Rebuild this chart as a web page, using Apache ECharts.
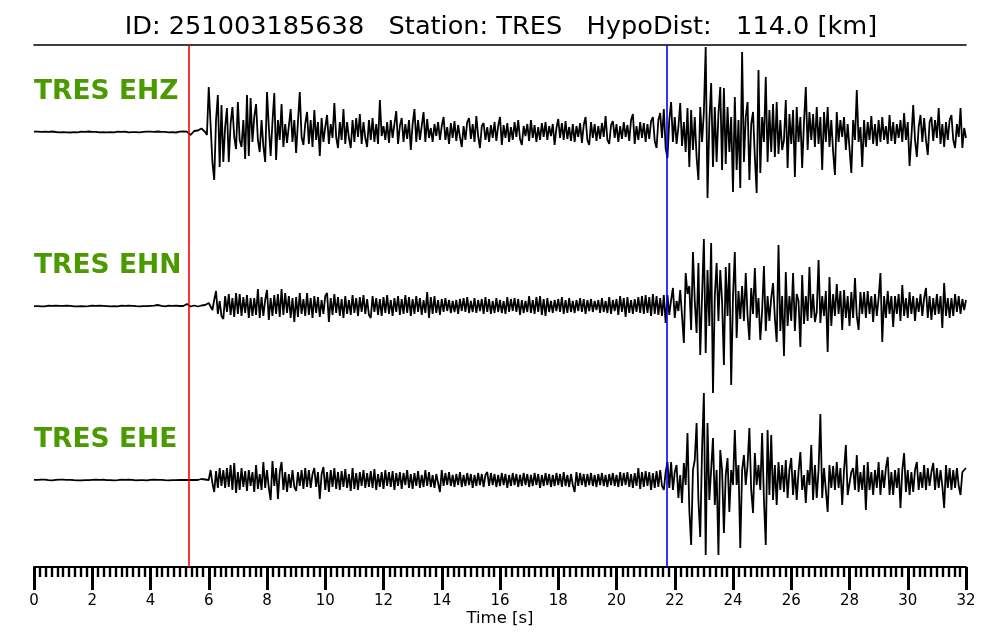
<!DOCTYPE html>
<html><head><meta charset="utf-8">
<script src="https://cdn.jsdelivr.net/npm/echarts@6/dist/echarts.min.js"></script>
<style>html,body{margin:0;padding:0;background:#fff}#chart{width:1000px;height:640px}</style>
</head><body><div id="chart"></div>
<script>
const TITLE = 'ID: 251003185638   Station: TRES   HypoDist:   114.0 [km]';
const CHANNELS = ['TRES EHZ', 'TRES EHN', 'TRES EHE'];
const X_NAME = 'Time [s]';
const SAMPLE_DT = 0.0625;   // seconds between samples
const T_MIN = 0, T_MAX = 32;
const P_PICK = 5.32;        // red marker, s
const S_PICK = 21.73;       // blue marker, s

// amplitudes (arbitrary units), 8 samples (0.5 s) per row
const EHZ = [
0.3,-0.2,0.4,-0.3,0.1,-0.4,0.3,-0.1,
0.2,-0.3,0.5,-0.2,0.0,0.3,-0.4,0.2,
-0.1,0.4,-0.3,0.2,-0.5,0.3,-0.1,0.4,
-0.3,0.1,0.3,-0.4,0.2,-0.2,0.5,-0.3,
0.1,-0.4,0.2,0.3,-0.3,0.4,-0.2,0.1,
-0.4,0.2,-0.1,0.5,-0.3,0.1,0.3,-0.4,
0.2,-0.3,0.4,-0.1,-0.4,0.3,-0.2,0.4,
-0.2,0.1,-0.4,0.3,0.2,-0.3,0.4,-0.1,
0.3,-0.4,0.1,-0.2,0.5,-0.3,0.2,-0.4,
0.1,0.3,-0.3,0.4,-0.2,0.1,-0.5,0.3,
0.3,-0.4,0.5,-0.2,0.4,-1.5,-3,-1,
1,2.5,1.5,3,3.5,2,0,-3,
45,8,-30,-48,12,37,-35,27,
-30,5,24,-30,8,25,-5,-17,
30,-8,-15,12,-27,37,-24,34,
-10,15,28,-8,-20,12,-14,-30,
40,5,-24,10,39,-28,12,-8,
28,-15,8,-11,6,23,-10,12,
-21,10,40,-5,-13,8,20,-12,
12,-15,22,-8,10,-24,14,-10,
5,17,-12,8,-6,29,-5,-16,
10,-8,23,-12,10,-6,-16,12,
-10,14,-5,18,-12,10,-6,-15,
12,-8,14,-10,8,-12,32,-4,
6,-8,10,-11,12,-6,8,21,
-12,6,14,-10,8,-7,12,-18,
8,23,-10,12,-8,6,20,-10,
13,-6,4,-10,8,-4,10,-8,
6,15,-8,5,-12,9,-6,11,
-9,7,-5,-15,6,-8,10,14,
-7,8,-10,16,-4,-16,6,9,
-8,5,-10,7,-6,10,-9,6,
15,-13,7,-6,9,-10,5,-8,
10,-5,12,-7,-13,6,-4,8,
-9,12,-6,7,-10,5,-8,9,
-5,10,-8,6,-4,8,-13,4,
13,-6,9,-8,11,-7,5,-9,
8,-10,6,-5,9,-11,7,15,
-8,-13,10,-6,8,-9,6,-7,
9,-5,16,-8,-12,7,11,-6,
8,-10,6,-7,10,-5,7,-9,
12,18,-12,6,-8,10,-6,9,
-10,8,-7,11,15,-9,-16,12,
19,-6,23,-16,-26,12,30,-10,
15,-12,5,29,-14,10,-20,24,
-35,22,-18,15,-25,-48,25,-10,
20,85,-66,10,49,-35,25,-30,
18,45,-38,44,-32,25,-20,15,
-60,35,-38,12,-56,80,-30,15,
30,-48,8,20,-25,-61,62,-41,
15,-10,55,-30,22,-20,28,-25,
30,-22,12,-18,-8,32,-36,18,
-12,22,-45,25,-10,15,-36,10,
45,-18,20,-8,18,-15,25,-12,
15,-38,20,-10,25,-15,12,-20,
-43,20,-10,12,-5,15,-18,8,
10,-41,12,-8,42,-10,5,-35,
12,-15,10,-8,16,-12,8,-14,
12,-10,15,-8,6,-12,17,-9,
10,-12,8,-6,12,-10,19,-8,
10,-34,-5,27,-8,-25,5,17,
-10,14,-8,-23,10,15,-9,12,
-6,24,-12,8,-15,10,-8,12,
17,-8,-16,8,-5,24,-16,4,
-6
];

const EHN = [
-0.2,0.3,-0.1,0.4,-0.3,0.2,-0.4,0.1,
0.3,-0.2,0.2,-0.4,0.4,-0.1,0.2,-0.3,
0.1,-0.3,0.4,-0.2,0.1,0.3,-0.4,0.2,
-0.3,0.4,-0.1,1.2,-0.4,0.2,-0.2,0.3,
0.4,-0.3,0.2,-0.1,0.3,-0.4,0.1,-0.2,
-0.1,0.2,-0.4,0.3,-0.2,0.4,-0.3,0.1,
0.3,-0.1,0.2,-0.3,0.4,-0.2,0.1,-0.4,
-0.2,0.4,-0.3,0.1,-0.1,0.3,-0.2,0.2,
0.2,-0.4,0.3,-0.2,1.0,-0.3,0.2,-0.1,
-0.3,0.1,0.4,-0.2,0.2,-0.4,0.3,-0.1,
0,0.5,0,-0.5,2,0,-0.5,0,
0.5,0,-0.5,0,0.5,0,1,3,
3,2,-4,6,15,-8,5,-10,
-13,10,-6,12,-9,8,-11,13,
-8,12,-10,9,-7,11,-12,8,
-10,8,-9,17,-12,9,-10,6,
16,-14,8,-10,11,-8,12,-11,
17,-9,13,-7,10,-12,8,-16,
9,-11,13,-8,7,-10,13,-9,
8,-12,10,-7,9,-11,6,-8,
10,13,-16,8,-9,12,-7,9,
-10,7,-12,10,-8,6,-9,11,
-7,8,-10,9,-6,11,-8,7,
-9,-12,10,-6,8,-9,7,-10,
9,-7,11,-8,6,-10,8,-6,
10,-9,7,-8,11,-7,9,-10,
7,-8,10,-6,8,-9,6,-7,
14,-12,9,-8,10,-7,6,-9,
7,-6,8,-5,6,-7,5,-6,
6,-8,7,-5,8,-6,9,-7,
5,-6,8,-7,6,-5,7,-8,
9,-6,7,-8,5,-7,8,-6,
6,-7,5,-8,9,-6,7,-5,
8,-6,7,-9,6,-7,5,-6,
10,-7,6,-8,9,-6,10,-9,
7,-10,8,-6,5,-7,6,-5,
7,-6,9,-8,6,-7,8,-6,
5,-7,6,-5,8,-6,7,-8,
6,-5,7,-6,5,-4,6,-7,
8,-6,5,-7,9,-8,6,-5,
7,-9,10,-6,8,-11,9,-7,
6,-8,7,-6,9,-7,10,-8,
11,-7,9,-10,12,-8,10,-9,
8,-10,11,-17,11,-9,6,18,
-12,5,-5,16,-10,-37,33,12,
20,-24,54,5,-27,43,-49,10,
67,-47,36,-20,63,-87,10,43,
-15,36,5,-59,39,-10,43,-79,
10,54,-32,15,-13,20,-15,33,
-10,-34,18,-8,38,-12,8,-34,
-5,40,-25,10,-15,8,23,-12,
-36,61,-25,10,-50,34,-20,10,
-15,33,-25,12,5,-41,31,-18,
10,-15,39,-12,12,-16,-6,46,
-17,10,-10,15,-46,29,-20,12,
-10,22,-8,15,-24,16,-12,10,
-20,14,-12,28,-10,-24,14,-8,
14,-12,15,-8,10,-16,12,-10,
8,33,-36,10,-12,15,-8,10,
-21,10,-8,12,-15,21,-10,8,
-12,14,-8,10,-15,8,-6,12,
-10,8,18,-12,10,-14,8,-9,
12,-8,10,-22,23,-10,8,-12,
8,-10,12,-6,10,-8,7,-4,
6
];

const EHE = [
0.1,-0.3,0.2,-0.2,0.4,-0.1,0.3,-0.4,
-0.2,0.3,-0.4,0.1,0.2,-0.3,0.4,-0.2,
0.3,-0.1,0.2,-0.4,0.1,0.3,-0.2,0.2,
-0.4,0.2,-0.3,0.3,-0.1,0.4,-0.2,0.1,
0.2,-0.2,0.4,-0.3,0.1,-0.1,0.3,-0.3,
-0.1,0.4,-0.2,0.2,-0.4,0.3,-0.1,0.2,
0.3,-0.4,0.1,-0.2,0.3,-0.3,0.2,-0.1,
-0.3,0.2,-0.1,0.4,-0.2,0.1,-0.4,0.3,
0.2,-0.1,0.3,-0.4,0.2,-0.2,0.1,-0.3,
-0.2,0.4,-0.3,0.1,-0.1,0.3,-0.2,0.4,
0,0.5,0,-0.5,0,0.5,0,-0.5,
0,0.5,0,0.5,1,0,0.5,2,
0,10,-3,-12,9,-8,12,-6,
10,-8,12,-7,15,-10,17,-13,
8,-10,12,-7,9,-11,10,-6,
8,-12,15,-9,6,-10,18,-8,
10,-8,-20,19,-6,12,-19,8,
18,-10,8,-12,6,-8,10,-7,
-11,8,-6,10,-9,12,-7,10,
-8,6,12,-7,8,-19,6,13,
-10,8,-12,10,-7,12,-9,8,
-10,9,-7,11,-8,6,-11,12,
-9,7,-10,8,-6,10,-8,7,
-7,9,-8,11,-10,6,-7,8,
-9,10,-6,8,-7,9,-10,7,
-6,8,-9,7,-5,10,-8,6,
-9,7,-6,9,-8,5,-7,10,
-6,8,-7,5,-8,6,7,-12,
10,-6,7,-5,8,-6,5,-7,
6,-5,8,-7,5,-6,7,-5,
6,-8,5,-6,7,-5,6,-7,
5,8,-6,7,-5,6,-7,5,
-6,7,-5,6,-8,5,-6,7,
-5,6,-7,5,-6,7,-5,6,
-7,5,-6,7,-5,6,-8,5,
-6,7,-5,6,-7,5,-6,7,
-5,6,-7,8,-6,5,-7,6,
-5,-12,8,-6,7,-5,6,-7,
6,-5,7,-6,5,-7,6,-5,
7,-6,5,-7,6,-5,7,-6,
5,-7,8,-6,7,-5,8,-7,
6,-8,7,-6,12,-9,8,-7,
9,-6,8,-10,7,-8,9,-7,
10,-6,-10,8,18,-8,18,-10,
8,15,-18,5,-23,17,-5,47,
-30,-65,10,20,57,-20,-57,30,
87,-75,57,-20,10,42,-25,10,
-75,30,10,-53,5,22,-32,10,
-5,50,-5,15,-68,10,25,-5,
15,52,-10,-33,27,-5,15,-10,
47,-20,-65,50,-15,45,-20,15,
-25,18,-10,15,-12,20,-18,10,
22,-15,10,-20,8,28,-10,5,
-23,10,-5,35,-20,15,-18,10,
66,-18,12,-10,-32,15,-8,14,
-10,18,-8,12,-25,10,35,-15,
-15,8,12,-10,25,-12,8,-10,
15,-30,18,-10,8,-15,10,-8,
18,-15,10,-8,12,23,-15,8,
-15,10,-8,12,-28,10,27,-12,
10,-15,8,-12,10,18,-10,8,
-8,15,-10,12,-6,8,17,-10,
12,-8,10,-6,-28,15,-8,12,
-10,10,-8,12,-6,-15,8,10,
12
];

const TRACES = [EHZ, EHN, EHE];
const expected = Math.round((T_MAX - T_MIN) / SAMPLE_DT) + 1;
TRACES.forEach((a, k) => { if (a.length !== expected) throw new Error(CHANNELS[k] + ' length ' + a.length + ' != ' + expected); });

const FONT = '"DejaVu Sans", "Liberation Sans", sans-serif';
const AMP = 87;
const BAND_TOP = 45, BAND_H = 174, LEFT = 34, RIGHT = 34;

const chart = echarts.init(document.getElementById('chart'), null, { renderer: 'canvas' });

const grids = [], xAxes = [], yAxes = [], series = [], graphics = [];
TRACES.forEach((trace, k) => {
  grids.push({ left: LEFT, right: RIGHT, top: BAND_TOP + k * BAND_H, height: BAND_H });
  const base = { gridIndex: k, type: 'value', min: T_MIN, max: T_MAX, splitLine: { show: false } };
  if (k === 0) {
    xAxes.push(Object.assign(base, { position: 'top', axisLine: { show: true, onZero: false, lineStyle: { color: '#000', width: 1.6 } },
      axisTick: { show: false }, axisLabel: { show: false } }));
  } else if (k === TRACES.length - 1) {
    xAxes.push(Object.assign(base, {
      position: 'bottom', interval: 2,
      axisLine: { show: true, onZero: false, lineStyle: { color: '#000', width: 2 } },
      axisTick: { show: true, length: 23, lineStyle: { color: '#000', width: 3 } },
      minorTick: { show: true, splitNumber: 10, length: 10, lineStyle: { color: '#000', width: 2.4 } },
      minorSplitLine: { show: false },
      axisLabel: { color: '#000', fontSize: 15, fontFamily: FONT, margin: 27, showMinLabel: true, showMaxLabel: true },
      name: X_NAME, nameLocation: 'middle', nameGap: 43,
      nameTextStyle: { color: '#000', fontSize: 16.5, fontFamily: FONT }
    }));
  } else {
    xAxes.push(Object.assign(base, { show: false }));
  }
  yAxes.push({ gridIndex: k, type: 'value', min: -AMP, max: AMP, show: false });
  series.push({
    type: 'line', xAxisIndex: k, yAxisIndex: k, showSymbol: false, symbol: 'none',
    animation: false, silent: true,
    lineStyle: { color: '#000', width: 1.8 },
    data: trace.map((v, i) => [T_MIN + i * SAMPLE_DT, v]),
    markLine: {
      silent: true, symbol: ['none', 'none'], animation: false,
      label: { show: false },
      data: [
        { xAxis: P_PICK, lineStyle: { color: '#ff0000', width: 1.6, type: 'solid', opacity: 1 } },
        { xAxis: S_PICK, lineStyle: { color: '#0000ff', width: 1.6, type: 'solid', opacity: 1 } }
      ]
    }
  });
  graphics.push({
    type: 'text', x: LEFT, y: BAND_TOP + k * BAND_H + 47,
    style: { text: CHANNELS[k], font: 'bold 26.5px ' + FONT, fill: '#4a9a00', verticalAlign: 'middle', align: 'left' }
  });
});

graphics.push({
  type: 'text', x: 501, y: 27,
  style: { text: TITLE, font: '25.6px ' + FONT, fill: '#000', verticalAlign: 'middle', align: 'center' }
});

chart.setOption({
  animation: false,
  backgroundColor: '#fff',
  grid: grids, xAxis: xAxes, yAxis: yAxes, series: series, graphic: graphics
});
</script>
</body></html>
